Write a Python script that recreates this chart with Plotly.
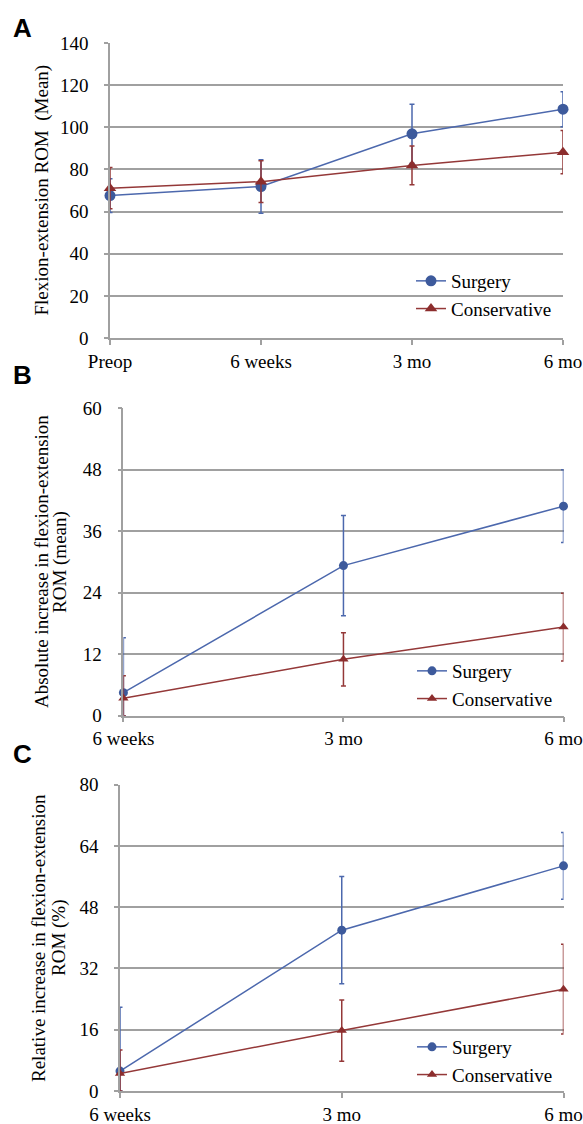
import plotly.graph_objects as go

# ---------------- data ----------------
cats_a = ["Preop", "6 weeks", "3 mo", "6 mo"]
surg_a = [67.6, 71.9, 96.9, 108.6]
surg_a_err = [8.0, 12.7, 14.0, 8.3]
cons_a = [71.1, 74.2, 81.9, 88.2]
cons_a_err = [9.8, 9.9, 9.2, 10.3]

cats_b = ["6 weeks", "3 mo", "6 mo"]
surg_b = [4.5, 29.3, 40.9]
surg_b_err = [10.7, 9.8, 7.1]
cons_b = [3.4, 11.0, 17.3]
cons_b_err = [4.4, 5.2, 6.6]

cats_c = ["6 weeks", "3 mo", "6 mo"]
surg_c = [5.2, 42.0, 58.8]
surg_c_err = [16.7, 14.0, 8.7]
cons_c = [4.6, 15.8, 26.6]
cons_c_err = [6.1, 8.0, 11.7]

yticks_a = [0, 20, 40, 60, 80, 100, 120, 140]
yticks_b = [0, 12, 24, 36, 48, 60]
yticks_c = [0, 16, 32, 48, 64, 80]

ytitle_a = "Flexion-extension ROM \u00a0(Mean)"
ytitle_b = ["Absolute increase in flexion-extension", "ROM (mean)"]
ytitle_c = ["Relative increase in flexion-extension", "ROM (%)"]

# ---------------- style ----------------
W, H = 583, 1124
BLUE = "#3D5A9C"
BLUE_L = "#4C68AD"
RED = "#8C2D2D"
RED_L = "#943838"
GRID = "#A0A0A0"
SERIF = "Liberation Serif"
FS = 19

def px_x(p):
    return p / W

def px_y(p):
    return 1 - p / H

panels = [
    dict(cats=cats_a, s=surg_a, se=surg_a_err, c=cons_a, ce=cons_a_err, yt=yticks_a,
         xd=(110, 563), yd=(43, 338), ms=11, leg=(411, 262)),
    dict(cats=cats_b, s=surg_b, se=surg_b_err, c=cons_b, ce=cons_b_err, yt=yticks_b,
         xd=(123.4, 563.5), yd=(408.3, 715.7), ms=9, leg=(412, 652)),
    dict(cats=cats_c, s=surg_c, se=surg_c_err, c=cons_c, ce=cons_c_err, yt=yticks_c,
         xd=(120, 563.5), yd=(784.7, 1091), ms=9, leg=(412, 1028)),
]

fig = go.Figure()
layout = {}
for i, p in enumerate(panels):
    n = i + 1
    xa = "x" if n == 1 else f"x{n}"
    ya = "y" if n == 1 else f"y{n}"
    leg = "legend" if n == 1 else f"legend{n}"
    xs = list(range(len(p["cats"])))
    for name, vals, errs, col, lcol, sym in [
        ("Surgery", p["s"], p["se"], BLUE, BLUE_L, "circle"),
        ("Conservative", p["c"], p["ce"], RED, RED_L, "triangle-up"),
    ]:
        minus = [min(e, v) for e, v in zip(errs, vals)]
        fig.add_trace(go.Scatter(
            x=xs, y=vals, name=name, mode="lines+markers",
            xaxis=xa, yaxis=ya, legend=leg, cliponaxis=False,
            line=dict(color=lcol, width=1.5),
            marker=dict(color=col, size=p["ms"], symbol=sym),
            error_y=dict(type="data", symmetric=False, array=errs, arrayminus=minus,
                         color=lcol, thickness=1.5, width=2.5),
        ))
    xkey = "xaxis" if n == 1 else f"xaxis{n}"
    ykey = "yaxis" if n == 1 else f"yaxis{n}"
    layout[xkey] = dict(
        domain=[px_x(p["xd"][0]), px_x(p["xd"][1])], anchor=ya, automargin=False,
        range=[0, len(p["cats"]) - 1], tickvals=xs, ticktext=p["cats"],
        ticklabeloverflow="allow",
        showgrid=False, zeroline=False, showline=True, linecolor=GRID, linewidth=1.5,
        ticks="outside", ticklen=5, tickcolor=GRID, tickwidth=1.5,
        tickfont=dict(family=SERIF, size=FS, color="black"),
    )
    layout[ykey] = dict(
        domain=[px_y(p["yd"][1]), px_y(p["yd"][0])], anchor=xa, automargin=False,
        range=[p["yt"][0], p["yt"][-1]], tickvals=p["yt"],
        showgrid=True, gridcolor=GRID, gridwidth=1.5, zeroline=False,
        showline=True, linecolor=GRID, linewidth=1.5,
        ticks="outside", ticklen=4, tickcolor=GRID, tickwidth=1.5,
        ticklabelstandoff=12,
        tickfont=dict(family=SERIF, size=FS, color="black"),
    )
    layout[leg] = dict(
        x=px_x(p["leg"][0]), y=px_y(p["leg"][1]), xanchor="left", yanchor="top",
        bgcolor="rgba(0,0,0,0)", font=dict(family=SERIF, size=FS, color="black"),
        tracegroupgap=0, itemwidth=30,
    )

annotations = []
for letter, cy in [("A", 28), ("B", 375), ("C", 754)]:
    annotations.append(dict(text=letter, x=px_x(22), y=px_y(cy), xref="paper", yref="paper",
                            xanchor="center", yanchor="middle", showarrow=False,
                            font=dict(family="Liberation Sans", size=26,
                                      color="black", weight="bold")))
annotations.append(dict(text=ytitle_a, x=px_x(41), y=px_y(190.5), xref="paper", yref="paper",
                        xanchor="center", yanchor="middle", textangle=-90, showarrow=False,
                        font=dict(family=SERIF, size=FS, color="black")))
for lines, xs_px, cy in [(ytitle_b, (41, 60), 562), (ytitle_c, (38, 59), 938)]:
    for t, xp in zip(lines, xs_px):
        annotations.append(dict(text=t, x=px_x(xp), y=px_y(cy), xref="paper", yref="paper",
                                xanchor="center", yanchor="middle", textangle=-90, showarrow=False,
                                font=dict(family=SERIF, size=FS, color="black")))

fig.update_layout(
    width=W, height=H, margin=dict(l=0, r=0, t=0, b=0, autoexpand=False),
    paper_bgcolor="white", plot_bgcolor="white",
    showlegend=True, annotations=annotations, **layout,
)

fig.write_html(
    "out.html",
    config={"displayModeBar": False},
    post_script="document.body.style.margin='0';document.body.style.overflow='hidden';"
                "document.documentElement.style.overflow='hidden';",
)
